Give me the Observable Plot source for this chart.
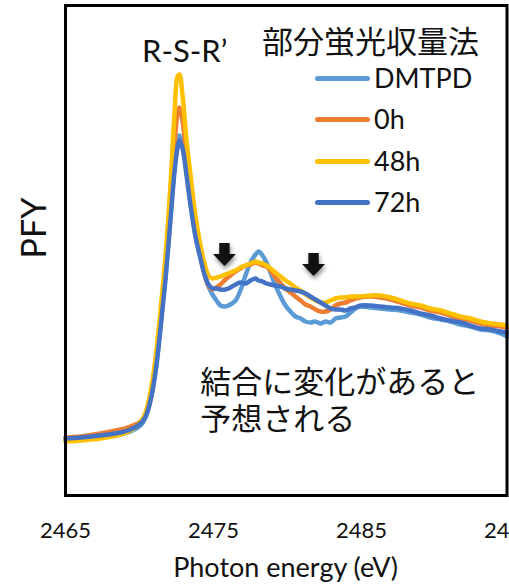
<!DOCTYPE html>
<html>
<head>
<meta charset="utf-8">
<script src="https://cdn.jsdelivr.net/npm/d3@7"></script>
<script src="https://cdn.jsdelivr.net/npm/@observablehq/plot@0.6"></script>
<style>
  html, body { margin: 0; padding: 0; background: #fff; }
  #wrap { position: relative; width: 509px; height: 585px; overflow: hidden; }
  #legend { position: absolute; left: 0; top: 0; width: 509px; height: 585px; pointer-events: none; }
  .ttl { position: absolute; left: 262px; top: 20px; font: 31px "Noto Sans CJK JP"; line-height: 40px; color: #111; white-space: nowrap; }
  .item { position: absolute; left: 315px; height: 40px; white-space: nowrap; }
  .item .sw { position: absolute; left: 0; top: 18px; width: 55px; height: 5px; border-radius: 3px; }
  .item .lb { position: absolute; left: 59px; top: 0; font: 27px Lato; line-height: 40px; color: #111; }
</style>
</head>
<body>
<div id="wrap"><div id="chart"></div><div id="legend"></div></div>
<script>
// Photon energy grid (eV)
const energy = [2465.00,2466.01,2467.36,2468.72,2469.39,2470.07,2470.41,2470.74,2471.08,2471.42,
  2471.76,2472.09,2472.36,2472.57,2472.70,2472.91,2473.18,2473.45,2473.78,2474.12,
  2474.39,2474.66,2474.93,2475.20,2475.47,2475.81,2476.15,2476.49,2476.82,2477.16,
  2477.50,2477.84,2478.04,2478.31,2478.58,2478.85,2479.19,2479.53,2479.86,2480.20,
  2480.54,2480.88,2481.22,2481.55,2481.89,2482.23,2482.57,2482.91,2483.24,2483.58,
  2483.92,2484.26,2484.59,2484.93,2485.61,2486.28,2486.96,2487.64,2488.31,2488.99,
  2489.66,2490.34,2491.01,2491.69,2492.36,2493.04,2493.72,2494.39,2494.86];

// PFY (arbitrary units)
const pfyDMTPD = [0.55,0.56,0.58,0.61,0.64,0.70,0.78,0.95,1.25,1.70,
  2.20,2.80,3.27,3.53,3.60,3.50,3.23,2.93,2.62,2.39,
  2.23,2.09,2.01,1.95,1.90,1.89,1.91,1.95,2.05,2.20,
  2.33,2.41,2.44,2.40,2.33,2.23,2.10,1.99,1.90,1.84,
  1.79,1.77,1.74,1.73,1.74,1.72,1.74,1.73,1.77,1.78,
  1.79,1.83,1.87,1.89,1.88,1.87,1.86,1.85,1.83,1.81,
  1.78,1.76,1.74,1.71,1.69,1.66,1.65,1.62,1.59];
const pfy0h = [0.58,0.59,0.62,0.66,0.69,0.74,0.81,0.97,1.30,1.77,
  2.30,2.95,3.50,3.82,3.88,3.75,3.37,3.00,2.65,2.39,
  2.22,2.10,2.06,2.08,2.11,2.16,2.20,2.24,2.27,2.30,
  2.31,2.33,2.32,2.30,2.29,2.25,2.18,2.12,2.07,2.03,
  1.99,1.95,1.91,1.89,1.86,1.84,1.84,1.86,1.90,1.92,
  1.93,1.95,1.97,1.98,1.99,1.98,1.96,1.93,1.90,1.88,
  1.85,1.83,1.80,1.77,1.75,1.72,1.70,1.69,1.68];
const pfy48h = [0.54,0.55,0.57,0.61,0.65,0.73,0.83,1.03,1.37,1.85,
  2.40,3.10,3.80,4.19,4.21,4.00,3.55,3.20,2.80,2.50,
  2.32,2.20,2.17,2.18,2.19,2.21,2.23,2.25,2.28,2.30,
  2.32,2.34,2.33,2.32,2.30,2.27,2.23,2.19,2.15,2.12,
  2.08,2.05,2.01,1.98,1.95,1.93,1.93,1.95,1.97,1.98,
  1.98,1.99,1.99,1.99,2.00,2.00,1.98,1.95,1.92,1.90,
  1.87,1.85,1.82,1.79,1.77,1.74,1.72,1.71,1.70];
const pfy72h = [0.57,0.58,0.60,0.63,0.66,0.72,0.79,0.95,1.23,1.67,
  2.17,2.75,3.23,3.48,3.55,3.47,3.20,2.90,2.59,2.37,
  2.21,2.11,2.07,2.07,2.06,2.06,2.08,2.11,2.13,2.12,
  2.15,2.17,2.15,2.14,2.12,2.11,2.10,2.09,2.07,2.06,
  2.05,2.04,2.02,1.99,1.96,1.93,1.90,1.87,1.86,1.86,
  1.85,1.87,1.88,1.90,1.90,1.89,1.88,1.87,1.85,1.82,
  1.80,1.77,1.75,1.73,1.70,1.67,1.66,1.64,1.63];

const seriesNames = ["DMTPD", "0h", "48h", "72h"];
const seriesColors = ["#5B9BD5", "#ED7D31", "#FFC000", "#4472C4"];
const seriesValues = [pfyDMTPD, pfy0h, pfy48h, pfy72h];

const xTicks = [2465, 2475, 2485, 2495];
const legendTitle = "部分蛍光収量法";

// annotations
const peakLabel = {x: 2473.05, y: 4.43, text: "R-S-R’"};
const noteLines = [
  {x: 2474.1, y: 1.12, text: "結合に変化があると"},
  {x: 2474.1, y: 0.75, text: "予想される"}
];
const arrowPts = [{x: 2475.74, y: 2.41}, {x: 2481.76, y: 2.31}];

const rows = [];
seriesNames.forEach((name, i) => {
  energy.forEach((e, j) => rows.push({series: name, energy: e, pfy: seriesValues[i][j]}));
});

const downArrow = {
  draw(ctx, size) {
    const k = Math.sqrt(size / Math.PI);
    ctx.moveTo(-0.45 * k, -k);
    ctx.lineTo(0.45 * k, -k);
    ctx.lineTo(0.45 * k, -0.05 * k);
    ctx.lineTo(k, -0.05 * k);
    ctx.lineTo(0, k);
    ctx.lineTo(-k, -0.05 * k);
    ctx.lineTo(-0.45 * k, -0.05 * k);
    ctx.closePath();
  }
};

const chart = Plot.plot({
  width: 509,
  height: 585,
  marginLeft: 65,
  marginRight: 0,
  marginTop: 5,
  marginBottom: 90,
  style: {fontFamily: "Lato", color: "#111", background: "#fff"},
  x: {domain: [2465, 2495]},
  y: {domain: [0, 4.9], axis: null},
  color: {domain: seriesNames, range: seriesColors},
  marks: [
    Plot.line(rows, {x: "energy", y: "pfy", z: "series", stroke: "series", strokeWidth: 4.5, curve: "catmull-rom", strokeLinejoin: "round", strokeLinecap: "round"}),
    Plot.dot(arrowPts, {x: "x", y: "y", symbol: downArrow, r: 11.5, fill: "#111", stroke: "none"}),
    Plot.text([peakLabel], {x: "x", y: "y", text: "text", fontSize: 31, fill: "#111", textAnchor: "middle"}),
    Plot.text(noteLines, {x: "x", y: "y", text: "text", fontSize: 31, fill: "#111", textAnchor: "start", lineAnchor: "middle", fontFamily: "Noto Sans CJK JP"}),
    Plot.frame({stroke: "black", strokeWidth: 3, insetRight: 2.5}),
    Plot.axisX({ticks: xTicks, tickSize: 0, tickPadding: 27, fontSize: 22, tickFormat: d => String(d), label: null}),
    Plot.text(["Photon energy (eV)"], {frameAnchor: "bottom", dy: 73, dx: -2, fontSize: 27, fill: "#111", lineAnchor: "middle"}),
    Plot.text(["PFY"], {frameAnchor: "left", dx: -30, dy: 8, rotate: -90, fontSize: 34, fill: "#111", lineAnchor: "middle"})
  ]
});
document.getElementById("chart").appendChild(chart);

// soft shadow on arrows
d3.select(chart).selectAll('g[aria-label="dot"] path')
  .style("filter", "drop-shadow(1px 3px 2px rgba(0,0,0,0.45))");

// legend overlay
const lg = document.getElementById("legend");
const t = document.createElement("div");
t.className = "ttl"; t.textContent = legendTitle; lg.appendChild(t);
seriesNames.forEach((name, i) => {
  const it = document.createElement("div");
  it.className = "item";
  it.style.top = (58 + i * 41.3) + "px";
  const sw = document.createElement("div");
  sw.className = "sw"; sw.style.background = seriesColors[i];
  const lb = document.createElement("div");
  lb.className = "lb"; lb.textContent = name;
  it.appendChild(sw); it.appendChild(lb);
  lg.appendChild(it);
});
</script>
</body>
</html>
